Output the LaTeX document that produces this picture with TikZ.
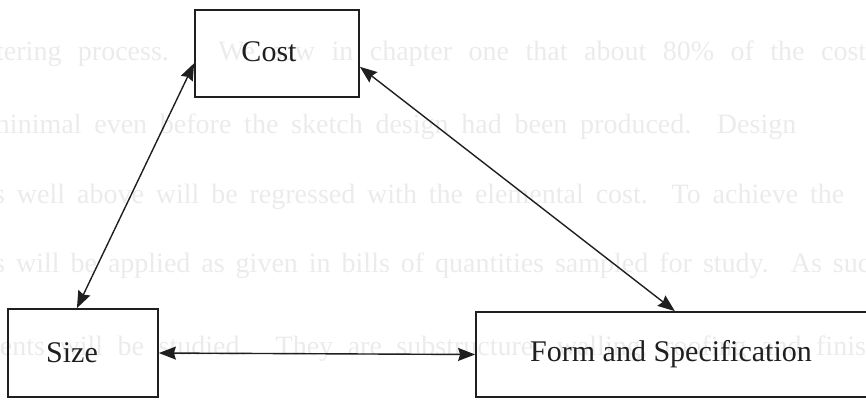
\documentclass[tikz,border=0pt]{standalone}
\usepackage{fontspec}
\setmainfont{Liberation Serif}
\usetikzlibrary{arrows.meta,calc}

\tikzset{
  box/.style={draw=black!88, line width=1.8pt, inner sep=0pt},
  lbl/.style={text=black!88, inner sep=0pt, font=\fontsize{30}{36}\selectfont},
  faint/.style={text=black!8, inner sep=0pt, anchor=base west, font=\fontsize{28}{34}\selectfont},
  link/.style={draw=black!88, line width=1.4pt, {Stealth[length=17pt,width=13pt,inset=2pt]}-{Stealth[length=17pt,width=13pt,inset=2pt]}}
}

\begin{document}
\begin{tikzpicture}[x=1pt,y=-1pt]
  \useasboundingbox (0,0) rectangle (866,402);
  \clip (0,0) rectangle (866,402);

  % show-through of the printed page behind the figure
  \node[faint] (t1) at (-4,60)   {\makebox[870pt][s]{tering process.\ \ \ We saw in chapter one that about 80\% of the cost}};
  \node[faint] (t2) at (-12,133) {\makebox[808pt][s]{minimal even before the sketch design had been produced.\ \ Design}};
  \node[faint] (t3) at (-6,203)  {\makebox[850pt][s]{s well above will be regressed with the elemental cost.\ \ To achieve the}};
  \node[faint] (t4) at (-6,272)  {\makebox[890pt][s]{s will be applied as given in bills of quantities sampled for study.\ \ As such}};
  \node[faint] (t5) at (-22,355) {\makebox[925pt][s]{ments will be studied.\ \ They are substructure, walling, roofing and finishes}};

  % boxes
  \node[box, minimum width=164pt, minimum height=87pt] (cost) at (277,53.5) {};
  \node[box, minimum width=150pt, minimum height=88pt] (size) at (83,353) {};
  \node[box, minimum width=410pt, minimum height=85pt] (form) at (681,354.5) {};

  % labels
  \node[lbl] (costtxt) at (269,52) {Cost};
  \node[lbl] (sizetxt) at (72,353) {Size};
  \node[lbl] (formtxt) at (671,354) {Form and Specification};

  % relationships
  \coordinate (sizetop) at ($(size.north west)!0.46!(size.north east)$);
  \coordinate (formtop) at ($(form.north west)!0.485!(form.north east)$);
  \coordinate (costl) at ($(cost.north west)!0.61!(cost.south west)$);
  \coordinate (costr) at ($(cost.north east)!0.65!(cost.south east)$);
  \draw[link] (costl) -- (sizetop);
  \draw[link] (costr) -- (formtop);
  \draw[link] (size.east) -- (form.west);
\end{tikzpicture}
\end{document}
